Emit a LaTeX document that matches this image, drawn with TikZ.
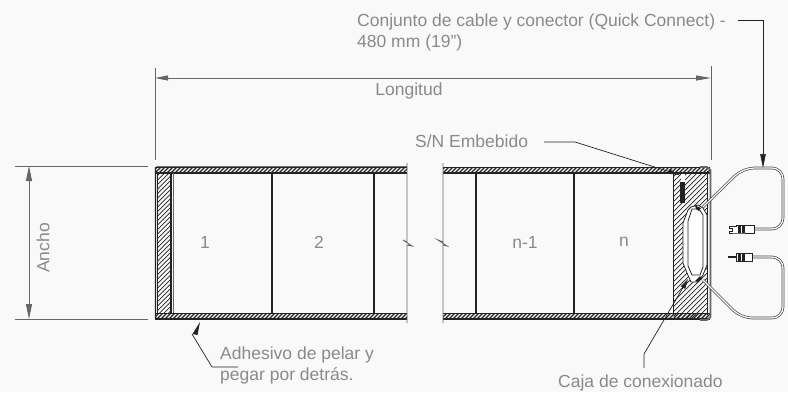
\documentclass[tikz,border=0pt]{standalone}
\usepackage{fontspec}
\setmainfont{Liberation Sans}
\usetikzlibrary{arrows.meta}
\definecolor{bgc}{HTML}{F8F9F8}
\definecolor{txt}{HTML}{8A8A8A}
\definecolor{ink}{HTML}{222222}
\definecolor{dimc}{HTML}{666666}
\newcommand{\hatchfill}[3]{\begin{scope}\clip #1;
  \foreach \k in {-400,#3,...,800}{\draw[ink,line width=#2] (\k,400)--(\k+400,0);}
  \end{scope}}
\tikzset{
  lbl/.style={text=txt,font=\fontsize{17.5}{21}\selectfont,inner sep=0pt,align=left},
  dimline/.style={draw=dimc,line width=.9pt},
  extline/.style={draw=dimc,line width=1pt},
  leader/.style={draw=ink,line width=.7pt},
  frameline/.style={draw=ink,line width=1pt},
  divider/.style={draw=ink,line width=1.1pt},
  breakline/.style={draw=dimc,line width=.9pt},
  cablea/.style={draw=ink!85,line width=2.6pt,rounded corners=11pt},
  cableb/.style={draw=white,line width=1.2pt,rounded corners=11pt},
  plug/.style={draw=ink,line width=.7pt,fill=white}
}
\begin{document}
\begin{tikzpicture}[x=1pt,y=-1pt]
\useasboundingbox (0,0) rectangle (788,392);
\fill[bgc] (0,0) rectangle (788,392);
% ---- named anchor points
\coordinate (LT) at (155,68); \coordinate (LB) at (155,160);
\coordinate (RT) at (711,66); \coordinate (RB) at (711,160);
\coordinate (DL) at (155,78); \coordinate (DR) at (711,78);
\coordinate (WT1) at (15,166); \coordinate (WT2) at (148,166);
\coordinate (WB1) at (15,319); \coordinate (WB2) at (148,319);
\coordinate (DT) at (29,166); \coordinate (DB) at (29,319);
% ---- strips (hatched top and bottom)
\foreach \xa/\xb in {155/407,443/710}{
  \hatchfill{(\xa,168.5) rectangle (\xb,172.5)}{1.2pt}{-396}
  \hatchfill{(\xa,313.5) rectangle (\xb,317.5)}{1.2pt}{-396}
  \draw[frameline,line width=.8pt] (\xa,167.5)--(\xb,167.5);
  \draw[frameline,line width=1.7pt] (\xa,173.2)--(\xb,173.2);
  \draw[frameline,line width=.8pt] (\xa,313)--(\xb,313);
  \draw[frameline,line width=2pt] (\xa,318.5)--(\xb,318.5);
}
% ---- left hatched end
\hatchfill{(158,174) rectangle (170,313)}{.7pt}{-395.5}
\draw[frameline,line width=1.3pt,rounded corners=1.5pt] (407,167)--(155.5,167)--(155.5,319)--(407,319);
\draw[frameline,line width=.8pt] (157.5,173)--(157.5,313);
\draw[frameline,line width=1.2pt] (171,173)--(171,313);
\draw[dimc,line width=.7pt] (173.5,173)--(173.5,313);
% ---- cell dividers
\foreach \x in {272,374,476,574}{\draw[divider] (\x,174)--(\x,313);}
% ---- break lines
\draw[breakline] (407,163)--(407,242)--(403,240)--(412,246)--(407,245)--(407,323);
\draw[breakline] (443,163)--(443,242)--(438,240)--(447,246)--(443,245)--(443,323);
% ---- right hatched end
\hatchfill{(673.5,174) -- (707,174) -- (707,317) -- (673.5,317) -- cycle}{.7pt}{-395}
\draw[frameline,line width=1pt] (673.5,173)--(673.5,313);
\draw[frameline,line width=.8pt] (707,171)--(707,315);
\draw[draw=dimc,line width=1.6pt] (700,167)--(707,167)--(710.5,170)--(710.5,317)--(707,320)--(700,320);
% serial number bar
\fill[ink] (680,182) rectangle (685,203);
\fill[white] (680.5,174) rectangle (684.5,182);
% ---- junction box
\filldraw[fill=white,draw=ink,line width=.8pt] (691,207)--(698,205)--(703,208)--(707,215)--(707,265)--(703,275)--(698,282)--(691,282)--(687,273)--(683,263)--(683,223)--(688,210)--cycle;
\filldraw[fill=white,draw=ink,line width=.8pt] (692,209)--(699,209)--(703,215)--(703,267)--(700,275)--(692,275)--(688,266)--(688,221)--cycle;
\fill[ink] (695,205.5)--(701,208)--(699,211)--(696,209)--cycle;
\fill[ink] (695,281)--(700,276)--(702,279)--(698,282)--cycle;
% ---- cables
\coordinate (CAa) at (703,207); \coordinate (CAb) at (743,168); \coordinate (CAc) at (783,168); \coordinate (CAd) at (783,229); \coordinate (CAe) at (754,229);
\coordinate (CBa) at (703,280); \coordinate (CBb) at (741,318); \coordinate (CBc) at (783,318); \coordinate (CBd) at (783,257); \coordinate (CBe) at (752,257);
\draw[cablea] (CAa)--(CAb)--(CAc)--(CAd)--(CAe);
\draw[cableb] (CAa)--(CAb)--(CAc)--(CAd)--(CAe);
\draw[cablea] (CBa)--(CBb)--(CBc)--(CBd)--(CBe);
\draw[cableb] (CBa)--(CBb)--(CBc)--(CBd)--(CBe);
% ---- plugs
\draw[plug] (729,226)--(736,226)--(736,225.5)--(754,225.5)--(754,233)--(736,233)--(729,233)--(729,231)--(732,231)--(732,228)--(729,228)--cycle;
\fill[ink] (738,226) rectangle (745,232.5);
\draw[white,line width=.5pt] (741,226)--(741,232.5);
\draw[ink,line width=1.8pt] (728,257)--(737,257);
\filldraw[plug] (736,253.5) rectangle (752,261);
\fill[ink] (738,254) rectangle (745,260.5);
\draw[white,line width=.5pt] (741,254)--(741,260.5);
% ---- dimensions
\draw[extline] (LT)--(LB);
\draw[extline] (RT)--(RB);
\draw[dimline,{Triangle[length=13pt,width=5pt]}-{Triangle[length=15pt,width=5pt]}] (DL)--(DR);
\draw[extline] (WT1)--(WT2);
\draw[extline] (WB1)--(WB2);
\draw[dimline,{Triangle[length=15pt,width=6pt]}-{Triangle[length=15pt,width=6pt]}] (DT)--(DB);
% ---- labels
\node[lbl,anchor=base west] (tcable) at (357,26) {Conjunto de cable y conector (Quick Connect) -};
\node[lbl,anchor=base west] (tcableb) at (357,47) {480 mm (19")};
\node[lbl,anchor=base] (tlong) at (409,95) {Longitud};
\node[lbl,rotate=90] (tancho) at (43,248) {Ancho};
\node[lbl] at (205,242) (t1) {1};
\node[lbl] at (319,242) (t2) {2};
\node[lbl] at (525,242) (tn1) {n-1};
\node[lbl] at (624,242) (tn) {n};
\node[lbl,anchor=base west] (tsn) at (415,147) {S/N Embebido};
\node[lbl,anchor=base west] (tadh) at (220,359) {Adhesivo de pelar y};
\node[lbl,anchor=base west] (tpeg) at (220,380) {pegar por detrás.};
\node[lbl,anchor=base west] (tcaja) at (558,387) {Caja de conexionado};
% ---- leaders
\coordinate (Qa) at (738,20); \coordinate (Qb) at (763,20); \coordinate (Qc) at (763,168);
\draw[leader,-{Triangle[length=14pt,width=5.5pt]}] (Qa)--(Qb)--(Qc);
\coordinate (Sa) at (544,142); \coordinate (Sb) at (575,142); \coordinate (Sc) at (680,175);
\draw[leader,-{Triangle[length=12pt,width=4.5pt]}] (Sa)--(Sb)--(Sc);
\coordinate (Aa) at (238,367); \coordinate (Ab) at (212,367); \coordinate (Ac) at (192,334); \coordinate (Ad) at (200,322);
\draw[leader] (Aa)--(Ab)--(Ac);
\fill[ink] (Ad)--(192.5,334)--(197.5,335)--cycle;
\coordinate (Ja) at (644,368); \coordinate (Jb) at (644,354); \coordinate (Jc) at (688,279);
\draw[leader,-{Triangle[length=10pt,width=5pt]}] (Ja)--(Jb)--(Jc);
\end{tikzpicture}
\end{document}
